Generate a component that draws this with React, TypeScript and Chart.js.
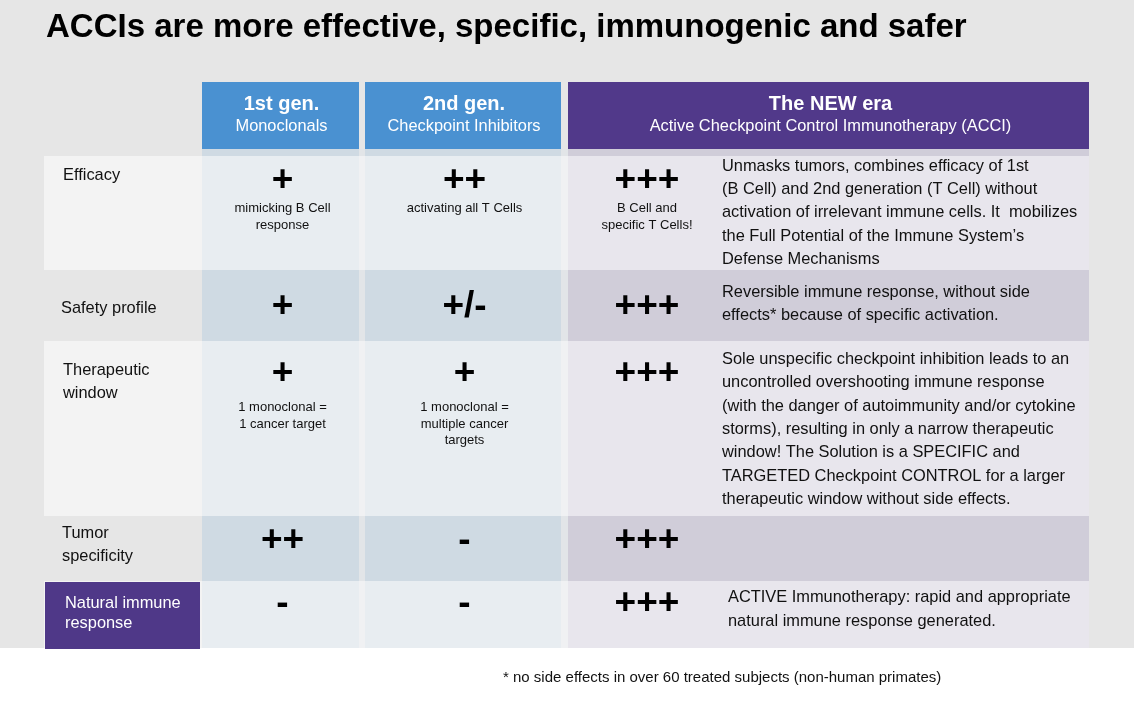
import { useEffect, useRef } from "react";
import { Chart, registerables } from "chart.js";

Chart.register(...registerables);

// ---------- DATA ----------
const chartTitle = "ACCIs are more effective, specific, immunogenic and safer";
const footnote = "* no side effects in over 60 treated subjects (non-human primates)";

const rowLabels: string[][] = [
  ["Efficacy"],
  ["Safety profile"],
  ["Therapeutic", "window"],
  ["Tumor", "specificity"],
  ["Natural immune", "response"],
];

const columnTitles = ["1st gen.", "2nd gen.", "The NEW era"];
const columnSubtitles = ["Monoclonals", "Checkpoint Inhibitors", "Active Checkpoint Control Immunotherapy (ACCI)"];

const firstGenRatings = ["+", "+", "+", "++", "-"];
const secondGenRatings = ["++", "+/-", "+", "-", "-"];
const acciRatings = ["+++", "+++", "+++", "+++", "+++"];

const firstGenNotes: string[][] = [["mimicking B Cell", "response"], [], ["1 monoclonal =", "1 cancer target"], [], []];
const secondGenNotes: string[][] = [["activating all T Cells"], [], ["1 monoclonal =", "multiple cancer", "targets"], [], []];
const acciNotes: string[][] = [["B Cell and", "specific T Cells!"], [], [], [], []];

const acciDescriptions: string[][] = [
  [
    "Unmasks tumors, combines efficacy of 1st",
    "(B Cell) and 2nd generation (T Cell) without",
    "activation of irrelevant immune cells. It  mobilizes",
    "the Full Potential of the Immune System\u2019s",
    "Defense Mechanisms",
  ],
  ["Reversible immune response, without side", "effects* because of specific activation."],
  [
    "Sole unspecific checkpoint inhibition leads to an",
    "uncontrolled overshooting immune response",
    "(with the danger of autoimmunity and/or cytokine",
    "storms), resulting in only a narrow therapeutic",
    "window! The Solution is a SPECIFIC and",
    "TARGETED Checkpoint CONTROL for a larger",
    "therapeutic window without side effects.",
  ],
  [],
  ["ACTIVE Immunotherapy: rapid and appropriate", "natural immune response generated."],
];

const highlightedRows = [false, false, false, false, true];

// ---------- LAYOUT & STYLE ----------
const W = 1134;
const H = 713;
const FONT = '"Liberation Sans", Arial, Helvetica, sans-serif';

const L = {
  grayBottom: 648,
  titleX: 46,
  titleY: 37,
  titleSize: 33,
  headerTop: 82,
  headerBottom: 149,
  stripBottom: 156,
  headerTitleY: 110,
  headerSubY: 131,
  bandLeft: 44,
  bandRight: 1089,
  labelCol: [44, 200],
  cols: [
    [202, 359],
    [365, 561],
    [568, 1089],
  ],
  symX: [282.5, 464.5, 647],
  symSize: 37,
  noteSize: 13,
  noteLH: 16.7,
  descSize: 16.4,
  descLH: 23.3,
  labelSize: 16.4,
  footX: 503,
  footY: 682,
  footSize: 15,
};

const rowLayout = [
  { top: 156, bottom: 270, labelX: 63, labelY: 180, labelLH: 22.5, symY: 191, noteY: 212.3, descX: 722, descY: 170.7 },
  { top: 270, bottom: 341, labelX: 61, labelY: 312.7, labelLH: 22.5, symY: 317, noteY: 0, descX: 722, descY: 296.7 },
  { top: 341, bottom: 516, labelX: 63, labelY: 375, labelLH: 22.7, symY: 384, noteY: 411, descX: 722, descY: 364 },
  { top: 516, bottom: 581, labelX: 62, labelY: 538.3, labelLH: 22.4, symY: 551, noteY: 0, descX: 722, descY: 0 },
  { top: 581, bottom: 648, labelX: 65, labelY: 607.7, labelLH: 20.5, symY: 614, noteY: 0, descX: 728, descY: 602.3 },
];

const C = {
  bg: "#e6e6e6",
  band: "#f3f3f3",
  blue: "#4a91d1",
  purple: "#51398a",
  labelPurple: "#4f3888",
  colLight: "#e8edf1",
  colDark: "#cfdae3",
  acciLight: "#e8e6ed",
  acciDark: "#d0cdd9",
  gapLight: "#f0f1f3",
  gapDark: "#e2e5e8",
  text: "#111111",
  white: "#ffffff",
};

const tablePlugin = {
  id: "comparisonTable",
  afterDraw(chart: any) {
    const { ctx, scales } = chart;
    const xs = scales.x;
    const ys = scales.y;
    const px = (v: number) => xs.getPixelForValue(v);
    const py = (v: number) => ys.getPixelForValue(v);
    const rect = (x0: number, y0: number, x1: number, y1: number, color: string) => {
      ctx.fillStyle = color;
      ctx.fillRect(px(x0), py(y0), px(x1) - px(x0), py(y1) - py(y0));
    };
    const text = (s: string, x: number, y: number, font: string, color: string, align: CanvasTextAlign = "left") => {
      ctx.font = font;
      ctx.fillStyle = color;
      ctx.textAlign = align;
      ctx.textBaseline = "alphabetic";
      ctx.fillText(s, px(x), py(y));
    };

    ctx.save();
    // backgrounds
    rect(0, 0, W, H, "#ffffff");
    rect(0, 0, W, L.grayBottom, C.bg);

    // title
    text(chartTitle, L.titleX, L.titleY, `bold ${L.titleSize}px ${FONT}`, "#000000");

    const colColors = [
      [C.colLight, C.colDark],
      [C.colLight, C.colDark],
      [C.acciLight, C.acciDark],
    ];

    // header
    L.cols.forEach((c, i) => {
      rect(c[0], L.headerTop, c[1], L.headerBottom, i < 2 ? C.blue : C.purple);
      rect(c[0], L.headerBottom, c[1], L.stripBottom, colColors[i][1]);
      const cx = (c[0] + c[1]) / 2 + (i === 2 ? 2 : 1);
      text(columnTitles[i], cx, L.headerTitleY, `bold 20px ${FONT}`, C.white, "center");
      text(columnSubtitles[i], cx, L.headerSubY, `16.4px ${FONT}`, C.white, "center");
    });
    rect(L.cols[0][1], L.headerBottom, L.cols[1][0], L.stripBottom, C.gapDark);
    rect(L.cols[1][1], L.headerBottom, L.cols[2][0], L.stripBottom, C.gapDark);

    const ratings = [firstGenRatings, secondGenRatings, acciRatings];
    const notes = [firstGenNotes, secondGenNotes, acciNotes];

    rowLayout.forEach((r, i) => {
      const light = i % 2 === 0;
      if (light) rect(L.bandLeft, r.top, L.bandRight, r.bottom, C.band);
      if (highlightedRows[i]) rect(L.labelCol[0] + 1, r.top + 1, L.labelCol[1], r.bottom + 1, C.labelPurple);
      L.cols.forEach((c, j) => {
        rect(c[0], r.top, c[1], r.bottom, colColors[j][light ? 0 : 1]);
      });
      const gap = light ? C.gapLight : C.gapDark;
      rect(L.cols[0][1], r.top, L.cols[1][0], r.bottom, gap);
      rect(L.cols[1][1], r.top, L.cols[2][0], r.bottom, gap);

      // row label
      rowLabels[i].forEach((s, k) => {
        text(s, r.labelX, r.labelY + k * r.labelLH, `${L.labelSize}px ${FONT}`, highlightedRows[i] ? C.white : C.text);
      });

      // ratings & notes
      ratings.forEach((arr, j) => {
        text(arr[i], L.symX[j], r.symY, `bold ${L.symSize}px ${FONT}`, "#000000", "center");
        notes[j][i].forEach((s, k) => {
          text(s, L.symX[j], r.noteY + k * L.noteLH, `${L.noteSize}px ${FONT}`, C.text, "center");
        });
      });

      // descriptions
      acciDescriptions[i].forEach((s, k) => {
        text(s, r.descX, r.descY + k * L.descLH, `${L.descSize}px ${FONT}`, C.text);
      });
    });

    // footnote
    text(footnote, L.footX, L.footY, `${L.footSize}px ${FONT}`, C.text);
    ctx.restore();
  },
};

export default function App() {
  const ref = useRef<HTMLCanvasElement>(null);
  useEffect(() => {
    document.body.style.margin = "0";
    const canvas = ref.current;
    if (!canvas) return;
    const chart = new Chart(canvas, {
      type: "scatter",
      data: { datasets: [] },
      options: {
        responsive: false,
        animation: false,
        devicePixelRatio: 1,
        events: [],
        layout: { padding: 0 },
        plugins: { legend: { display: false }, tooltip: { enabled: false }, title: { display: false } },
        scales: {
          x: { type: "linear", min: 0, max: W, display: false },
          y: { type: "linear", min: 0, max: H, reverse: true, display: false },
        },
      },
      plugins: [tablePlugin],
    } as any);
    return () => chart.destroy();
  }, []);
  return <canvas ref={ref} width={W} height={H} style={{ display: "block" }} />;
}
